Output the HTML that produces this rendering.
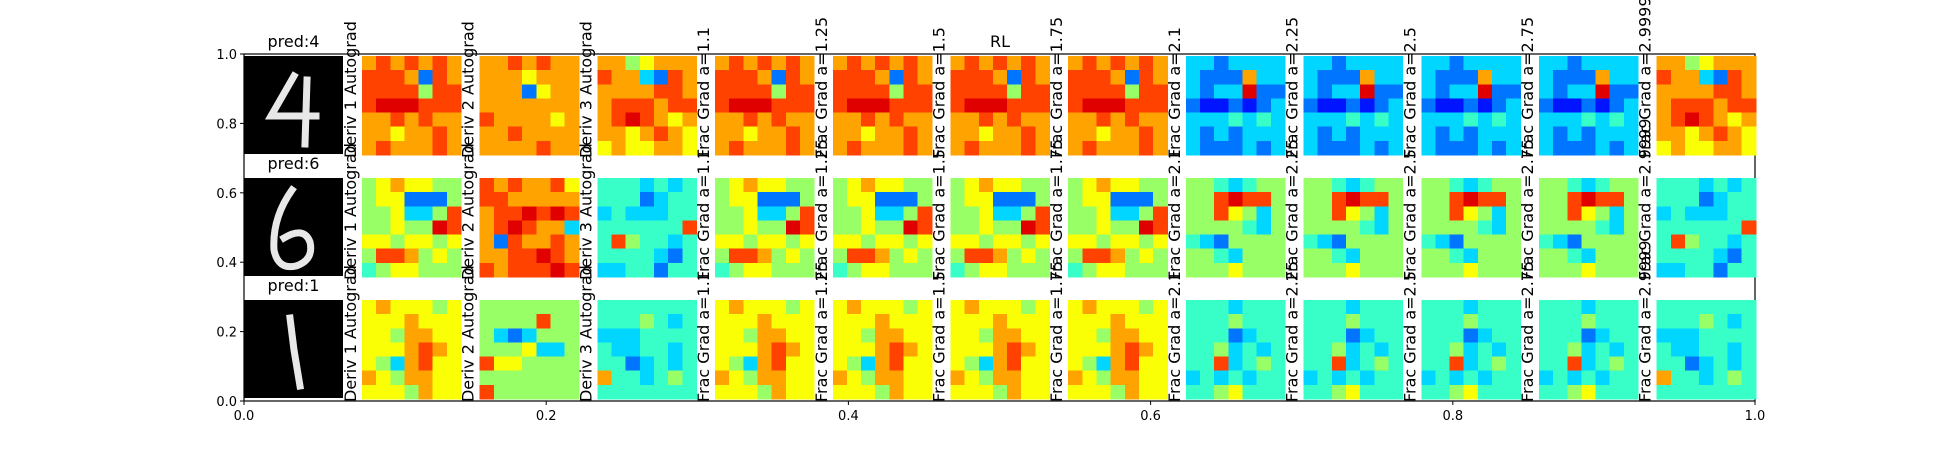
<!DOCTYPE html>
<html><head><meta charset="utf-8">
<style>
html,body{margin:0;padding:0;background:#fff;}
svg{display:block;font-family:"DejaVu Sans","Liberation Sans",sans-serif;}
</style></head>
<body>
<svg id="fig" width="1950" height="450" viewBox="0 0 1950 450" xmlns="http://www.w3.org/2000/svg">
<rect x="0" y="0" width="1950" height="450" fill="#fff"/>
<g id="axes"></g>
<g id="panels"></g>
<g id="labels"></g>
</svg>
<script>
// ---- data ----
const xTicks = [0.0, 0.2, 0.4, 0.6, 0.8, 1.0];
const yTicks = [0.0, 0.2, 0.4, 0.6, 0.8, 1.0];
const xTickLabels = ["0.0","0.2","0.4","0.6","0.8","1.0"];
const yTickLabels = ["0.0","0.2","0.4","0.6","0.8","1.0"];
const columnLabels = ["Deriv 1 Autograd","Deriv 2 Autograd","Deriv 3 Autograd","Frac Grad a=1.1","Frac Grad a=1.25","Frac Grad a=1.5","Frac Grad a=1.75","Frac Grad a=2.1","Frac Grad a=2.25","Frac Grad a=2.5","Frac Grad a=2.75","Frac Grad a=2.9999"];
const predLabels = ["pred:4","pred:6","pred:1"];
const rowPatterns = [
  ["A","B","C","A","A","A","A","D","D","D","D","C"],
  ["E","F","G","E","E","E","E","H","H","H","H","G"],
  ["I","J","K","I","I","I","I","L","L","L","L","K"]
];
// 7x7 coarse attribution values (0 = low, 9 = high)
const patA = ["7878787","8887287","8888588","8999888","7787877","7767787","7877787"];
const patB = ["7787877","7776777","7772677","7777777","8777767","7787777","7777877"];
const patC = ["7756777","8773287","7777887","7888788","7898767","7767876","6766776"];
const patD = ["3323333","3222733","3233922","2112123","3334343","3232333","3222323"];
const patE = ["5676655","5662225","5563358","5565598","6656656","5887565","4566555"];
const patF = ["8787786","8877777","7889898","7898773","7287787","7788987","8788898"];
const patG = ["4443434","4442344","3433344","4444448","4854434","4444324","3344244"];
const patH = ["5543455","5589885","5586535","5555435","4325555","5543555","5556555"];
const patI = ["6766656","6667666","6657766","6667876","6537866","7657766","6665766"];
const patJ = ["5555555","5555855","5323555","5556335","8665555","5555555","8555555"];
const patK = ["4444444","4445434","3334444","4334434","4423434","7443454","4444444"];
const patL = ["4443444","4445444","4442344","4453434","4483454","3434344","4456444"];
const patterns = {A:patA,B:patB,C:patC,D:patD,E:patE,F:patF,G:patG,H:patH,I:patI,J:patJ,K:patK,L:patL};

// ---- layout ----
const NS = "http://www.w3.org/2000/svg";
const AX = {l:244, r:1755, t:54, b:401};
const xs = v => AX.l + v*(AX.r-AX.l);
const ys = v => AX.b - v*(AX.b-AX.t);
const PANEL = 99, COL0 = 362, PITCH = 117.7, ROW0 = 56, RPITCH = 122, IMG_X = 244;
const level = d => 0.05 + d*0.095;
function el(tag, attrs, parent){const e=document.createElementNS(NS,tag);for(const k in attrs)e.setAttribute(k,attrs[k]);parent.appendChild(e);return e;}
function jet(v){
  const c=x=>Math.max(0,Math.min(1,x));
  const r=c(1.5-Math.abs(4*v-3)), g=c(1.5-Math.abs(4*v-2)), b=c(1.5-Math.abs(4*v-1));
  return `rgb(${Math.round(r*255)},${Math.round(g*255)},${Math.round(b*255)})`;
}
const axes=document.getElementById('axes');
const frame=el('rect',{x:AX.l,y:AX.t,width:AX.r-AX.l,height:AX.b-AX.t,fill:'none',stroke:'#000','stroke-width':1.2},axes);


xTicks.forEach((t,i)=>{
  const tk=el('line',{x1:xs(t),x2:xs(t),y1:AX.b,y2:AX.b+4,stroke:'#000','stroke-width':1},axes);
  
  
  const tl=el('text',{x:xs(t),y:AX.b+19,'text-anchor':'middle','font-size':13,fill:'#000'},axes);
  tl.textContent=xTickLabels[i];
  
  
});
yTicks.forEach((t,i)=>{
  const tk=el('line',{x1:AX.l-4,x2:AX.l,y1:ys(t),y2:ys(t),stroke:'#000','stroke-width':1},axes);
  
  
  const tl=el('text',{x:AX.l-7,y:ys(t)+5,'text-anchor':'end','font-size':13,fill:'#000'},axes);
  tl.textContent=yTickLabels[i];
  
  
});

const panels=document.getElementById('panels');
const labels=document.getElementById('labels');
const digitPaths=[
  "M50 20 L27 60 L72 60 M63 24 L61 88",
  "M48 12 Q28 40 30 72 Q34 92 52 88 Q70 82 66 64 Q60 48 40 60",
  "M46 18 L50 50 L56 86"
];
rowPatterns.forEach((row,r)=>{
  const y0=ROW0+r*RPITCH;
  const ig=el('g',{},panels);
  
  
  el('rect',{x:IMG_X,y:y0,width:PANEL,height:PANEL-1,fill:'#000'},ig);
  el('path',{d:digitPaths[r],transform:`translate(${IMG_X},${y0})`,fill:'none',stroke:'#e8e8e8','stroke-width':7,'stroke-linecap':'square','stroke-linejoin':'miter'},ig);
  const pt=el('text',{x:IMG_X+PANEL/2,y:y0-9,'text-anchor':'middle','font-size':16,fill:'#000'},labels);
  pt.textContent=predLabels[r];
  
  
  row.forEach((key,c)=>{
    const x0=COL0+c*PITCH;
    const pat=patterns[key];
    const g=el('g',{'shape-rendering':'crispEdges'},panels);
    
    
    const n=pat.length, cs=PANEL/n;
    pat.forEach((line,i)=>{
      for(let j=0;j<line.length;j++){
        const v=level(parseInt(line[j]));
        const cell=el('rect',{x:(x0+j*cs).toFixed(2),y:(y0+i*cs).toFixed(2),width:(cs+0.6).toFixed(2),height:(cs+0.6).toFixed(2),fill:jet(v)},g);
        
        
      }
    });
    const lx=x0-6, ly=y0+PANEL+3;
    const t=el('text',{x:lx,y:ly,transform:`rotate(-90 ${lx} ${ly})`,'font-size':16,fill:'#000'},labels);
    t.textContent=columnLabels[c];
    
    
  });
});
const rl=el('text',{x:COL0+5*PITCH+PANEL/2,y:47,'text-anchor':'middle','font-size':16,fill:'#000'},labels);
rl.textContent="RL";


</script>
</body></html>
